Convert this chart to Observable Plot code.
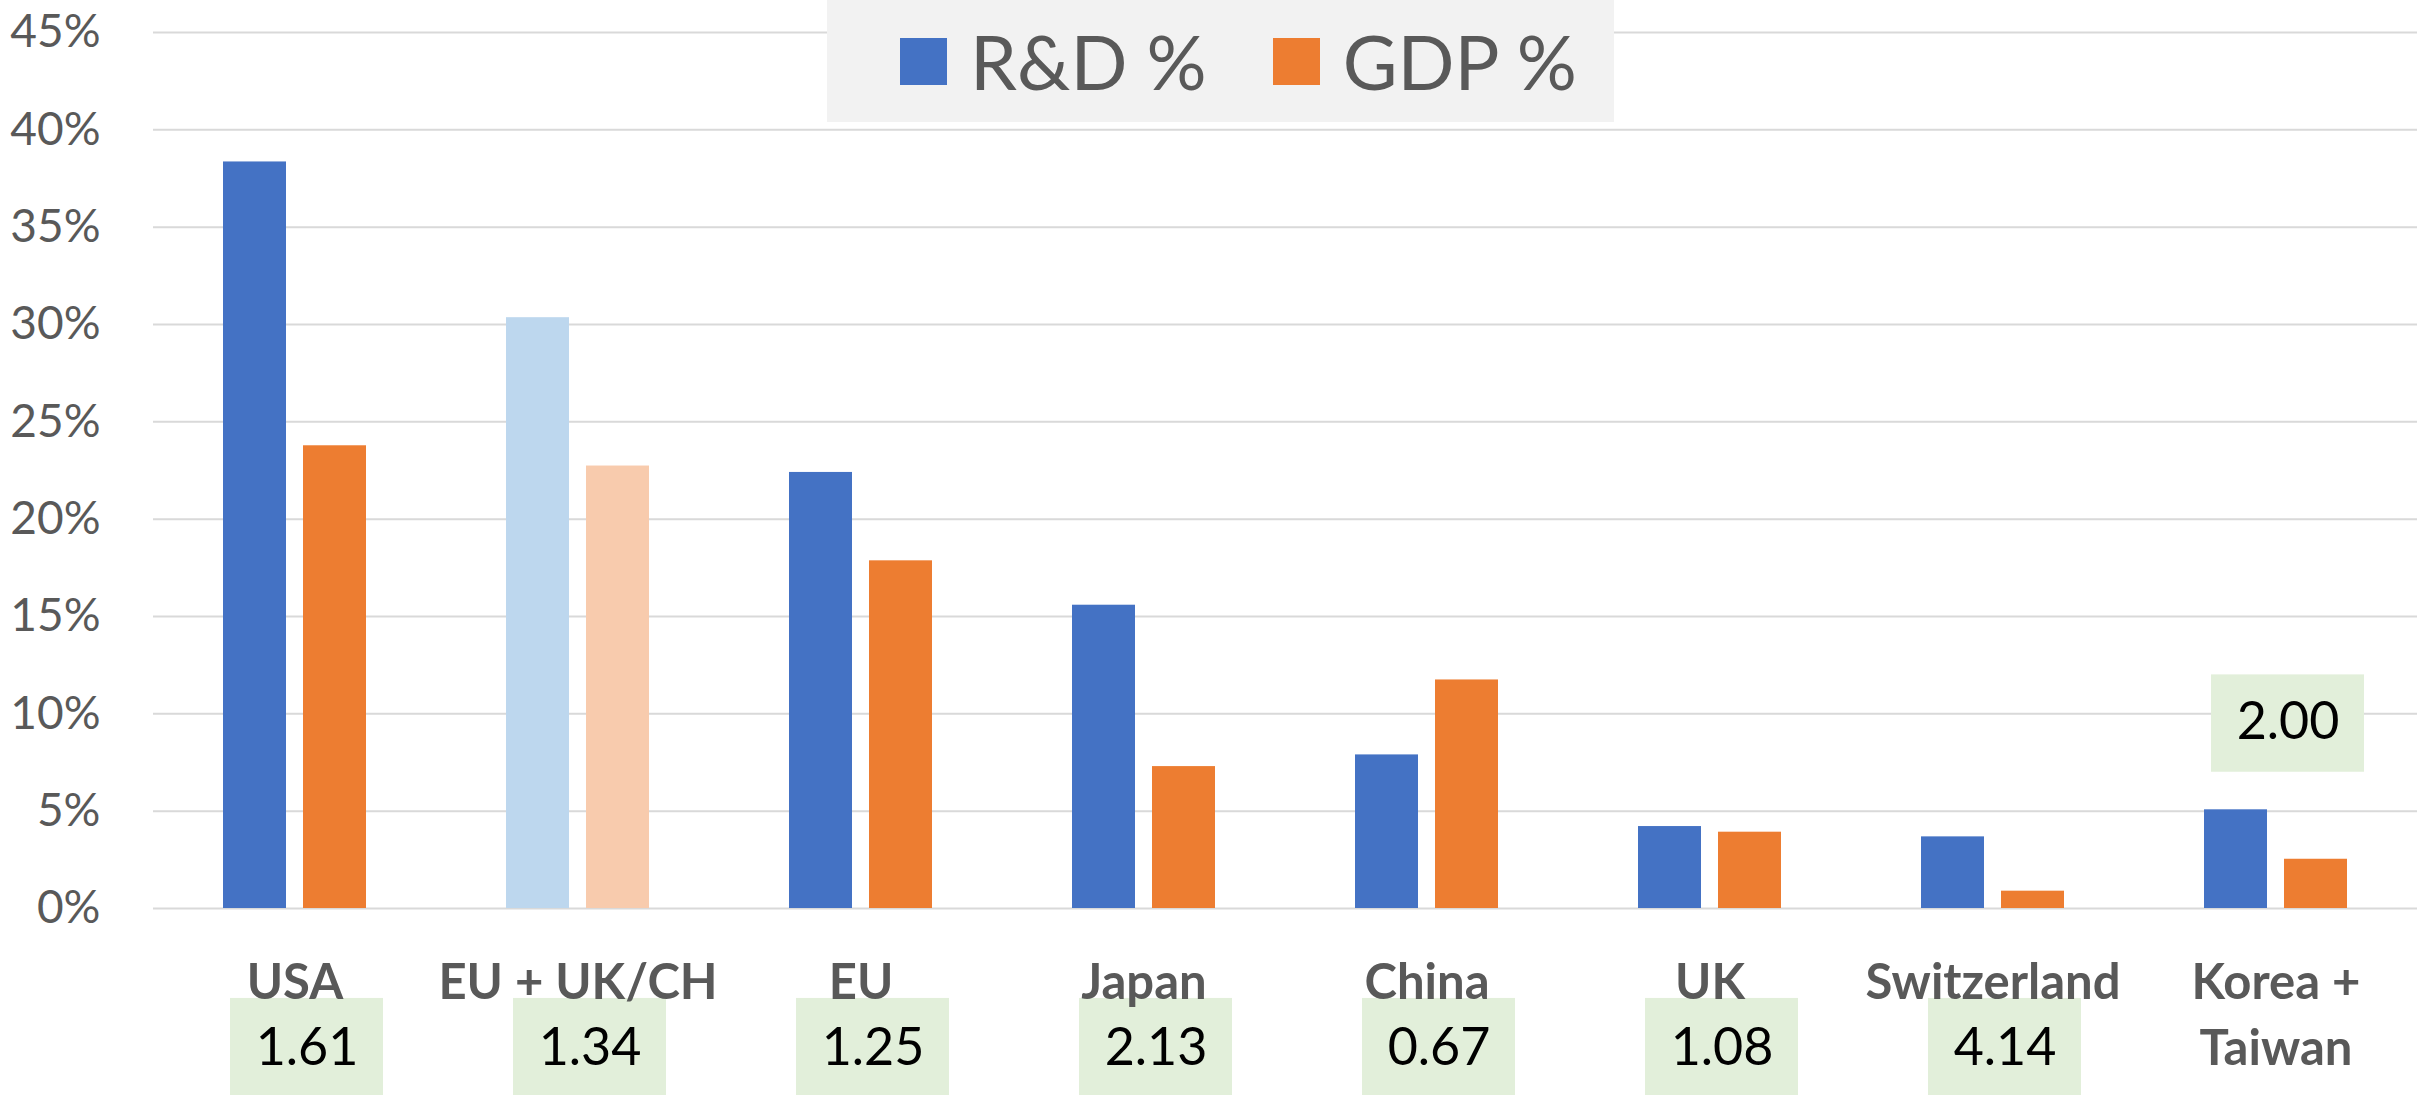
<!DOCTYPE html>
<html>
<head>
<meta charset="utf-8">
<script src="https://cdn.jsdelivr.net/npm/d3@7"></script>
<script src="https://cdn.jsdelivr.net/npm/@observablehq/plot@0.6"></script>
<style>
  html, body { margin: 0; padding: 0; background: #ffffff; }
  #wrap { position: relative; width: 2433px; height: 1095px; font-family: Lato, "Open Sans", sans-serif; }
  #legend { position: absolute; left: 827px; top: 0; width: 787px; height: 122px; background: #f2f2f2;
            display: flex; align-items: center; justify-content: flex-start; padding-left: 73px; box-sizing: border-box; z-index: 2; }
  #legend .item { display: flex; align-items: center; }
  #legend .sw { width: 47px; height: 47px; margin-right: 23px; }
  #legend .lab { font-size: 75px; color: #595959; line-height: 1; }
  #legend .item + .item { margin-left: 66px; }
  #chart { position: absolute; left: 0; top: 0; }
</style>
</head>
<body>
<div id="wrap"><div id="legend"></div><div id="chart"></div></div>
<script>
// ---- data ----
const categories = ["USA", "EU + UK/CH", "EU", "Japan", "China", "UK", "Switzerland", "Korea + Taiwan"];
const categoryLabels = ["USA", "EU + UK/CH", "EU", "Japan", "China", "UK", "Switzerland", "Korea +\nTaiwan"];
const series = ["R&D %", "GDP %"];
const rdShare = [38.35, 30.35, 22.4, 15.58, 7.89, 4.21, 3.68, 5.07];
const gdpShare = [23.77, 22.73, 17.86, 7.29, 11.74, 3.92, 0.89, 2.53];
const ratios = ["1.61", "1.34", "1.25", "2.13", "0.67", "1.08", "4.14", "2.00"];
const yTicks = [0, 5, 10, 15, 20, 25, 30, 35, 40, 45];
const seriesColors = ["#4472C4", "#ED7D31"];
const fadedColors = ["#BDD7EE", "#F8CBAD"];
const fadedCategory = "EU + UK/CH";
const ratioAboveCategory = "Korea + Taiwan";

// ---- tables built from arrays ----
const values = [rdShare, gdpShare];
const bars = categories.flatMap((c, i) => series.map((s, j) => ({
  category: c, series: s, value: values[j][i],
  color: c === fadedCategory ? fadedColors[j] : seriesColors[j]
})));
const catRows = categories.map((c, i) => ({
  category: c, label: categoryLabels[i], ratio: ratios[i], above: c === ratioAboveCategory
}));

// ---- legend (HTML) ----
const legend = document.getElementById("legend");
series.forEach((s, j) => {
  const item = document.createElement("div");
  item.className = "item";
  item.innerHTML = `<div class="sw" style="background:${seriesColors[j]}"></div><div class="lab"></div>`;
  item.querySelector(".lab").textContent = s;
  legend.appendChild(item);
});

// ---- chart ----
const chart = Plot.plot({
  width: 2433,
  height: 1095,
  marginLeft: 153,
  marginRight: 16,
  marginTop: 32,
  marginBottom: 187,
  style: { fontFamily: "Lato, 'Open Sans', sans-serif", color: "#595959", background: "transparent", overflow: "visible" },
  fx: { domain: categories, paddingInner: 0, paddingOuter: 0, axis: null, label: null },
  x: { domain: series, paddingInner: 0.2125, paddingOuter: 0.857, axis: null, label: null },
  y: { domain: [0, 45], label: null },
  color: { type: "identity" },
  marks: [
    Plot.ruleY(yTicks, { stroke: "#d9d9d9", strokeWidth: 2 }),
    Plot.barY(bars, { fx: "category", x: "series", y: "value", fill: "color" }),
    Plot.axisY({ ticks: yTicks, tickFormat: d => d + "%", tickSize: 0, tickPadding: 53, fontSize: 46, fill: "#595959", label: null }),
    Plot.barY(catRows, {
      fx: "category",
      y1: d => d.above ? 7.0 : -4.62,
      y2: d => d.above ? 12.0 : -9.8,
      fill: "#E2EFDA", insetLeft: 65, insetRight: 65, dx: 12
    }),
    Plot.text(catRows, {
      fx: "category", text: "label", frameAnchor: "bottom", lineAnchor: "top", dy: 43,
      fontSize: 49, fontWeight: "bold", fill: "#595959", lineHeight: 1.36
    }),
    Plot.text(catRows, {
      fx: "category", y: d => d.above ? 9.55 : -7.2, text: "ratio",
      fontSize: 52, fill: "#000000", dx: 12
    })
  ]
});
document.getElementById("chart").appendChild(chart);
</script>
</body>
</html>
